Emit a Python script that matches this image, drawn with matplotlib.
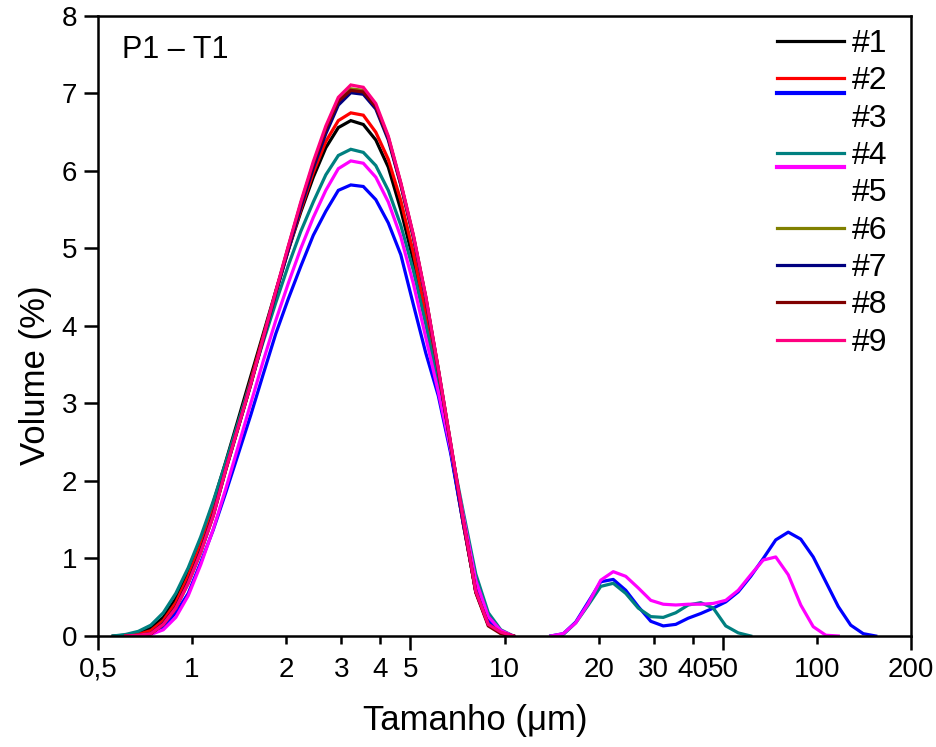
import numpy as np
import matplotlib
matplotlib.use("Agg")
import matplotlib.pyplot as plt
from matplotlib.legend_handler import HandlerLine2D
from matplotlib.ticker import FixedLocator, FixedFormatter

plt.rcParams["font.family"] = ["Liberation Sans", "DejaVu Sans"]

# ------------------------------------------------------------------
# Data
# ------------------------------------------------------------------

# size classes, main population (µm)
SIZE_MAIN = [0.510, 0.559, 0.613, 0.673, 0.738, 0.809, 0.887, 0.972, 1.066,
             1.169, 1.282, 1.406, 1.541, 1.690, 1.853, 2.032, 2.228, 2.443,
             2.679, 2.938, 3.221, 3.532, 3.873, 4.246, 4.656, 5.105, 5.598,
             6.138, 6.730, 7.379, 8.091, 8.872, 9.728, 10.67]

# size classes, coarse population (µm)
SIZE_COARSE = [14.06, 15.42, 16.90, 18.54, 20.32, 22.28, 24.43, 26.79, 29.38,
               32.21, 35.32, 38.73, 42.46, 46.56, 51.05, 55.98, 61.38, 67.30,
               73.79, 80.91, 88.72, 97.27, 106.7, 117.0, 128.2, 140.6, 154.2,
               169.0]

nan = np.nan

S1_MAIN = [nan, 0.0, 0.01, 0.04, 0.10, 0.24, 0.48, 0.82, 1.24, 1.72, 2.25,
           2.80, 3.35, 3.90, 4.45, 4.98, 5.47, 5.92, 6.30, 6.56, 6.65, 6.60,
           6.40, 6.05, 5.50, 4.85, 4.08, 3.25, 2.38, 1.45, 0.58, 0.16, 0.04,
           0.0]
S2_MAIN = [nan, nan, 0.0, 0.02, 0.07, 0.20, 0.43, 0.77, 1.18, 1.67, 2.20,
           2.74, 3.30, 3.87, 4.43, 4.98, 5.50, 5.98, 6.38, 6.65, 6.75, 6.72,
           6.50, 6.15, 5.62, 4.95, 4.15, 3.30, 2.40, 1.45, 0.58, 0.15, 0.04,
           0.0]
S3_MAIN = [nan, nan, nan, 0.0, 0.03, 0.12, 0.30, 0.55, 0.95, 1.37, 1.85,
           2.35, 2.85, 3.38, 3.90, 4.35, 4.77, 5.17, 5.48, 5.75, 5.82, 5.80,
           5.63, 5.33, 4.92, 4.28, 3.65, 3.10, 2.35, 1.45, 0.62, 0.20, 0.06,
           0.0]
S4_MAIN = [nan, 0.0, 0.02, 0.06, 0.14, 0.30, 0.55, 0.88, 1.28, 1.74, 2.24,
           2.76, 3.28, 3.80, 4.30, 4.78, 5.22, 5.60, 5.95, 6.20, 6.28, 6.24,
           6.07, 5.75, 5.30, 4.72, 4.02, 3.25, 2.42, 1.60, 0.80, 0.30, 0.08,
           0.0]
S5_MAIN = [nan, nan, nan, 0.0, 0.02, 0.08, 0.24, 0.52, 0.92, 1.38, 1.90,
           2.45, 3.00, 3.55, 4.07, 4.55, 5.00, 5.40, 5.75, 6.03, 6.13, 6.10,
           5.92, 5.60, 5.15, 4.55, 3.85, 3.15, 2.40, 1.55, 0.72, 0.25, 0.07,
           0.0]
S6_MAIN = [nan, nan, 0.0, 0.01, 0.03, 0.15, 0.36, 0.68, 1.08, 1.55, 2.14,
           2.69, 3.24, 3.84, 4.43, 5.01, 5.57, 6.08, 6.53, 6.90, 7.06, 7.04,
           6.84, 6.43, 5.83, 5.16, 4.37, 3.44, 2.47, 1.49, 0.57, 0.15, 0.04,
           0.0]
S7_MAIN = [nan, nan, nan, 0.0, 0.03, 0.16, 0.37, 0.70, 1.10, 1.57, 2.15,
           2.70, 3.25, 3.83, 4.42, 4.98, 5.53, 6.04, 6.48, 6.85, 7.01, 6.99,
           6.80, 6.40, 5.82, 5.15, 4.35, 3.43, 2.46, 1.48, 0.57, 0.15, 0.04,
           0.0]
S8_MAIN = [nan, nan, 0.0, 0.01, 0.03, 0.15, 0.37, 0.69, 1.09, 1.56, 2.15,
           2.70, 3.25, 3.85, 4.44, 5.02, 5.58, 6.09, 6.54, 6.90, 7.04, 7.02,
           6.83, 6.43, 5.84, 5.17, 4.37, 3.44, 2.47, 1.49, 0.56, 0.13, 0.03,
           0.0]
S9_MAIN = [nan, nan, 0.0, 0.01, 0.03, 0.15, 0.36, 0.68, 1.08, 1.55, 2.15,
           2.70, 3.25, 3.85, 4.45, 5.03, 5.60, 6.12, 6.58, 6.95, 7.11, 7.08,
           6.87, 6.45, 5.85, 5.18, 4.38, 3.45, 2.48, 1.50, 0.58, 0.15, 0.05,
           0.0]

S3_COARSE = [0.0, 0.03, 0.18, 0.44, 0.70, 0.73, 0.59, 0.38, 0.19, 0.13, 0.15,
             0.23, 0.29, 0.36, 0.44, 0.57, 0.77, 1.00, 1.24, 1.34, 1.25, 1.02,
             0.70, 0.38, 0.14, 0.03, 0.0]
S4_COARSE = [0.0, 0.02, 0.17, 0.40, 0.64, 0.68, 0.55, 0.36, 0.25, 0.24, 0.30,
             0.40, 0.43, 0.36, 0.13, 0.04, 0.0]
S5_COARSE = [0.0, 0.03, 0.17, 0.42, 0.72, 0.83, 0.77, 0.62, 0.46, 0.41, 0.40,
             0.41, 0.41, 0.42, 0.46, 0.59, 0.79, 0.98, 1.02, 0.79, 0.40, 0.12,
             0.01, 0.0]

LABELS = ["#1", "#2", "#3", "#4", "#5", "#6", "#7", "#8", "#9"]
COLORS = ["#000000", "#ff0000", "#0000ff", "#008080", "#ff00ff",
          "#808000", "#000080", "#800000", "#ff0080"]
MAIN = [S1_MAIN, S2_MAIN, S3_MAIN, S4_MAIN, S5_MAIN,
        S6_MAIN, S7_MAIN, S8_MAIN, S9_MAIN]
COARSE = {2: S3_COARSE, 3: S4_COARSE, 4: S5_COARSE}

X_MAJOR = [0.5, 5, 50, 200]
X_MINOR = [1, 2, 3, 4, 10, 20, 30, 40, 100]


# ------------------------------------------------------------------
# Legend handler: Origin-style shifted sample line
# ------------------------------------------------------------------

class ShiftedLine(HandlerLine2D):
    def __init__(self, dy, dx, lw, **kw):
        super().__init__(**kw)
        self.dy = dy
        self.dx = dx
        self.lw = lw

    def create_artists(self, legend, orig_handle, xdescent, ydescent,
                       width, height, fontsize, trans):
        artists = super().create_artists(legend, orig_handle, xdescent,
                                         ydescent, width, height, fontsize,
                                         trans)
        for a in artists:
            x = np.asarray(a.get_xdata(), dtype=float)
            y = np.asarray(a.get_ydata(), dtype=float)
            if len(x) == 2:
                x = np.array([x[0], x[1] + self.dx])
            a.set_data(x, y + self.dy)
            a.set_linewidth(self.lw)
        return artists


# ------------------------------------------------------------------
# Plot
# ------------------------------------------------------------------

fig = plt.figure(figsize=(9.37, 7.47), dpi=100)
ax = fig.add_axes([0.1046, 0.1486, 0.8677, 0.8300])

lines = []
for i, (vals, col, lab) in enumerate(zip(MAIN, COLORS, LABELS)):
    ln, = ax.plot(SIZE_MAIN, vals, color=col, lw=2.3, label=lab,
                  solid_joinstyle="miter")
    lines.append(ln)
    if i in COARSE:
        cv = COARSE[i]
        ax.plot(SIZE_COARSE[:len(cv)], cv, color=col, lw=2.3)

ax.set_xscale("log")
ax.set_xlim(0.5, 200)
ax.set_ylim(0, 8)

ax.xaxis.set_major_locator(FixedLocator(X_MAJOR))
ax.xaxis.set_minor_locator(FixedLocator(X_MINOR))
ax.xaxis.set_major_formatter(FixedFormatter(["0,5", "5", "50", "200"]))
ax.xaxis.set_minor_formatter(FixedFormatter([str(v) for v in X_MINOR]))
ax.set_yticks(range(0, 9))

ax.tick_params(axis="both", which="major", direction="out", length=10,
               width=1.8, labelsize=20, pad=5)
ax.tick_params(axis="x", which="minor", direction="out", length=6,
               width=1.8, labelsize=20, pad=9)

for sp in ax.spines.values():
    sp.set_linewidth(1.8)

ax.set_xlabel("Tamanho (\u03bcm)", fontsize=25)
ax.xaxis.set_label_coords(0.464, -0.109)
ax.set_ylabel("Volume (%)", fontsize=25)
ax.yaxis.set_label_coords(-0.056, 0.42)

ax.text(0.03, 0.97, "P1 \u2013 T1", transform=ax.transAxes,
        fontsize=22, ha="left", va="top")

handler_map = {
    lines[2]: ShiftedLine(dy=16, dx=6, lw=3.0),
    lines[4]: ShiftedLine(dy=17, dx=6, lw=3.0),
}
ax.legend(handles=lines, labels=LABELS, handler_map=handler_map,
          loc="upper left", bbox_to_anchor=(0.835, 0.979),
          frameon=False, fontsize=23, handlelength=2.1,
          handletextpad=0.25, labelspacing=0.23, borderpad=0,
          borderaxespad=0)

fig.savefig("out.png", dpi=100)
plt.close(fig)
